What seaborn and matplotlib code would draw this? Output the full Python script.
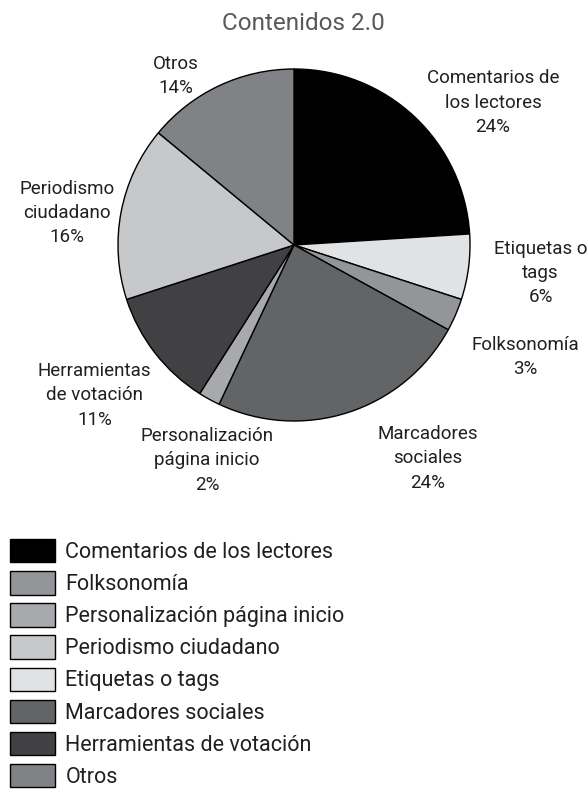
import numpy as np
import seaborn as sns
from matplotlib import pyplot as plt

# slices, clockwise from the top
categories = ["Comentarios de los lectores", "Etiquetas o tags", "Folksonomía",
              "Marcadores sociales", "Personalización página inicio",
              "Herramientas de votación", "Periodismo ciudadano", "Otros"]
slice_labels = ["Comentarios de\nlos lectores", "Etiquetas o\ntags", "Folksonomía",
                "Marcadores\nsociales", "Personalización\npágina inicio",
                "Herramientas\nde votación", "Periodismo\nciudadano", "Otros"]
values = [24, 6, 3, 24, 2, 11, 16, 14]
colors = ["#000000", "#e1e2e4", "#939598", "#636466",
          "#a7a9ac", "#414042", "#c7c8ca", "#808285"]
legend_order = ["Comentarios de los lectores", "Folksonomía", "Personalización página inicio",
                "Periodismo ciudadano", "Etiquetas o tags", "Marcadores sociales",
                "Herramientas de votación", "Otros"]

# where each label sits: (angle in degrees, distance in radii)
label_pos = [(35.6, 1.39), (-6.5, 1.41), (-25.8, 1.46), (-58, 1.43),
             (-112, 1.32), (-143, 1.42), (172, 1.30), (125, 1.17)]

sns.set_theme(style="white")
plt.rcParams["font.family"] = ["Roboto", "DejaVu Sans"]
txt = "#231f20"

W, H = 588, 789
fig = plt.figure(figsize=(W / 100, H / 100), dpi=100)
cx, cy, r = 294, 245, 176
ax = fig.add_axes([(cx - r) / W, (H - cy - r) / H, 2 * r / W, 2 * r / H])

wedges, _ = ax.pie(values, colors=colors, startangle=90, counterclock=False,
                   wedgeprops=dict(edgecolor="black", linewidth=1))
ax.set_xlim(-1, 1)
ax.set_ylim(-1, 1)
ax.set_aspect("equal")
ax.axis("off")

for lab, v, (ang, d) in zip(slice_labels, values, label_pos):
    a = np.deg2rad(ang)
    ax.text(d * np.cos(a), d * np.sin(a), f"{lab}\n{v}%", ha="center", va="center",
            fontsize=13.5, color=txt, linespacing=1.45, clip_on=False)

fig.text(303 / W, 1 - 24 / H, "Contenidos 2.0", ha="center", va="center",
         fontsize=17.5, color="#58595b")

handles = [wedges[categories.index(c)] for c in legend_order]
fig.legend(handles, legend_order, loc="upper left", bbox_to_anchor=(10 / W, 1 - 539 / H),
           frameon=False, fontsize=15.5, handlelength=2.1, handleheight=1.3,
           labelspacing=0.38, handletextpad=0.47, labelcolor=txt,
           borderaxespad=0, borderpad=0)

fig.savefig("out.png", dpi=100)
